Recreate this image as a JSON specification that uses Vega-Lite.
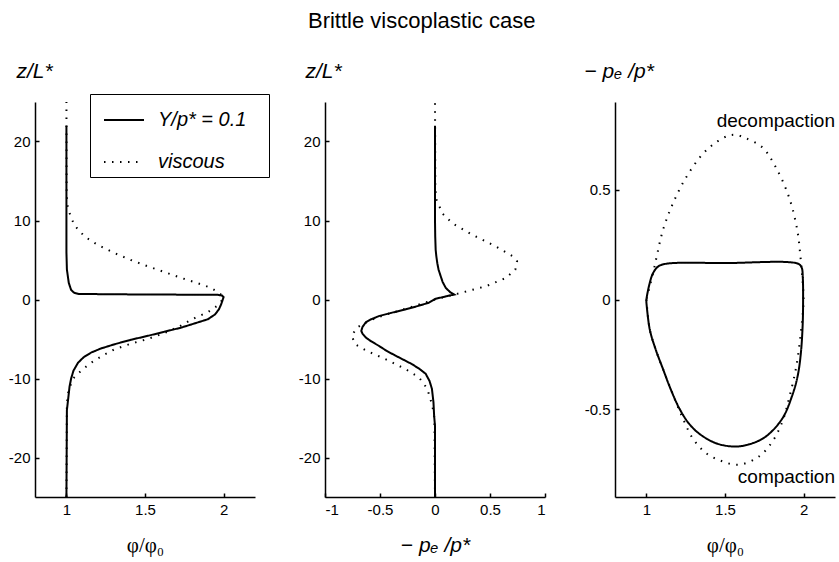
{
  "$schema": "https://vega.github.io/schema/vega-lite/v6.json",
  "padding": {"left": 8, "top": 10, "right": 2, "bottom": 5},
  "background": "white",
  "title": {"text": "Brittle viscoplastic case", "fontSize": 22, "fontWeight": "normal", "font": "Liberation Sans", "color": "black", "anchor": "middle", "offset": 27},
  "config": {
    "view": {"stroke": null},
    "font": "Liberation Sans",
    "axis": {
      "grid": false, "domainColor": "black", "domainWidth": 1.5, "tickColor": "black", "tickWidth": 1.5,
      "tickSize": -4, "labelPadding": 9, "labelColor": "black", "labelFontSize": 15, "labelFont": "Liberation Sans",
      "titleColor": "black", "titleFontWeight": "normal", "labelExpr": "'' + datum.value"
    },
    "axisY": {"titleAngle": 0, "titleAlign": "left", "titleBaseline": "alphabetic", "titleY": -25, "titleFontSize": 21, "titleFontStyle": "italic"},
    "axisX": {"titlePadding": 17}
  },
  "datasets": {
    "p1": [
      {"s": "Y/p* = 0.1", "z": -25, "phi": 1.0},
      {"s": "Y/p* = 0.1", "z": -14, "phi": 1.003},
      {"s": "Y/p* = 0.1", "z": -12.6, "phi": 1.011},
      {"s": "Y/p* = 0.1", "z": -11, "phi": 1.02},
      {"s": "Y/p* = 0.1", "z": -10, "phi": 1.03},
      {"s": "Y/p* = 0.1", "z": -9, "phi": 1.045},
      {"s": "Y/p* = 0.1", "z": -8, "phi": 1.074},
      {"s": "Y/p* = 0.1", "z": -7.3, "phi": 1.11},
      {"s": "Y/p* = 0.1", "z": -6.7, "phi": 1.159},
      {"s": "Y/p* = 0.1", "z": -6.2, "phi": 1.22},
      {"s": "Y/p* = 0.1", "z": -5.66, "phi": 1.307},
      {"s": "Y/p* = 0.1", "z": -5.1, "phi": 1.41},
      {"s": "Y/p* = 0.1", "z": -4.6, "phi": 1.518},
      {"s": "Y/p* = 0.1", "z": -4.1, "phi": 1.62},
      {"s": "Y/p* = 0.1", "z": -3.56, "phi": 1.73},
      {"s": "Y/p* = 0.1", "z": -3.0, "phi": 1.82},
      {"s": "Y/p* = 0.1", "z": -2.5, "phi": 1.9},
      {"s": "Y/p* = 0.1", "z": -1.9, "phi": 1.945},
      {"s": "Y/p* = 0.1", "z": -1.26, "phi": 1.97},
      {"s": "Y/p* = 0.1", "z": -0.6, "phi": 1.985},
      {"s": "Y/p* = 0.1", "z": 0, "phi": 1.995},
      {"s": "Y/p* = 0.1", "z": 0.3, "phi": 2.0},
      {"s": "Y/p* = 0.1", "z": 0.5, "phi": 1.99},
      {"s": "Y/p* = 0.1", "z": 0.6, "phi": 1.96},
      {"s": "Y/p* = 0.1", "z": 0.63, "phi": 1.5},
      {"s": "Y/p* = 0.1", "z": 0.7, "phi": 1.08},
      {"s": "Y/p* = 0.1", "z": 0.84, "phi": 1.05},
      {"s": "Y/p* = 0.1", "z": 1.2, "phi": 1.03},
      {"s": "Y/p* = 0.1", "z": 2.1, "phi": 1.015},
      {"s": "Y/p* = 0.1", "z": 3.8, "phi": 1.003},
      {"s": "Y/p* = 0.1", "z": 6, "phi": 1.0},
      {"s": "Y/p* = 0.1", "z": 22, "phi": 1.0},
      {"s": "viscous", "z": -25, "phi": 1.0},
      {"s": "viscous", "z": -13, "phi": 1.003},
      {"s": "viscous", "z": -11.3, "phi": 1.015},
      {"s": "viscous", "z": -9.85, "phi": 1.05},
      {"s": "viscous", "z": -8.9, "phi": 1.1},
      {"s": "viscous", "z": -7.96, "phi": 1.16},
      {"s": "viscous", "z": -7.1, "phi": 1.23},
      {"s": "viscous", "z": -6.3, "phi": 1.307},
      {"s": "viscous", "z": -5.6, "phi": 1.41},
      {"s": "viscous", "z": -5.0, "phi": 1.518},
      {"s": "viscous", "z": -4.2, "phi": 1.63},
      {"s": "viscous", "z": -3.4, "phi": 1.72},
      {"s": "viscous", "z": -2.5, "phi": 1.8},
      {"s": "viscous", "z": -1.6, "phi": 1.9},
      {"s": "viscous", "z": -0.8, "phi": 1.96},
      {"s": "viscous", "z": 0, "phi": 1.995},
      {"s": "viscous", "z": 0.5, "phi": 1.99},
      {"s": "viscous", "z": 0.84, "phi": 1.97},
      {"s": "viscous", "z": 1.47, "phi": 1.92},
      {"s": "viscous", "z": 2.1, "phi": 1.83},
      {"s": "viscous", "z": 2.73, "phi": 1.73},
      {"s": "viscous", "z": 3.5, "phi": 1.62},
      {"s": "viscous", "z": 4.2, "phi": 1.518},
      {"s": "viscous", "z": 5.0, "phi": 1.41},
      {"s": "viscous", "z": 5.87, "phi": 1.307},
      {"s": "viscous", "z": 6.9, "phi": 1.2},
      {"s": "viscous", "z": 7.97, "phi": 1.116},
      {"s": "viscous", "z": 9.4, "phi": 1.05},
      {"s": "viscous", "z": 10.9, "phi": 1.021},
      {"s": "viscous", "z": 12, "phi": 1.005},
      {"s": "viscous", "z": 14, "phi": 1.001},
      {"s": "viscous", "z": 25, "phi": 1.0}
    ],
    "p2": [
      {"s": "Y/p* = 0.1", "z": -25, "p": 0},
      {"s": "Y/p* = 0.1", "z": -16, "p": 0},
      {"s": "Y/p* = 0.1", "z": -14.7, "p": -0.008},
      {"s": "Y/p* = 0.1", "z": -13, "p": -0.014},
      {"s": "Y/p* = 0.1", "z": -11.3, "p": -0.028},
      {"s": "Y/p* = 0.1", "z": -10.3, "p": -0.05},
      {"s": "Y/p* = 0.1", "z": -9.4, "p": -0.085},
      {"s": "Y/p* = 0.1", "z": -8.8, "p": -0.14},
      {"s": "Y/p* = 0.1", "z": -8.2, "p": -0.207},
      {"s": "Y/p* = 0.1", "z": -7.6, "p": -0.29},
      {"s": "Y/p* = 0.1", "z": -7.1, "p": -0.36},
      {"s": "Y/p* = 0.1", "z": -6.5, "p": -0.44},
      {"s": "Y/p* = 0.1", "z": -5.87, "p": -0.51},
      {"s": "Y/p* = 0.1", "z": -5.3, "p": -0.58},
      {"s": "Y/p* = 0.1", "z": -4.8, "p": -0.63},
      {"s": "Y/p* = 0.1", "z": -4.3, "p": -0.66},
      {"s": "Y/p* = 0.1", "z": -3.98, "p": -0.67},
      {"s": "Y/p* = 0.1", "z": -3.5, "p": -0.66},
      {"s": "Y/p* = 0.1", "z": -2.9, "p": -0.63},
      {"s": "Y/p* = 0.1", "z": -2.5, "p": -0.58},
      {"s": "Y/p* = 0.1", "z": -2.1, "p": -0.51},
      {"s": "Y/p* = 0.1", "z": -1.7, "p": -0.4},
      {"s": "Y/p* = 0.1", "z": -1.26, "p": -0.27},
      {"s": "Y/p* = 0.1", "z": -0.8, "p": -0.15},
      {"s": "Y/p* = 0.1", "z": -0.4, "p": -0.055},
      {"s": "Y/p* = 0.1", "z": 0.09, "p": 0.006},
      {"s": "Y/p* = 0.1", "z": 0.4, "p": 0.1},
      {"s": "Y/p* = 0.1", "z": 0.63, "p": 0.174},
      {"s": "Y/p* = 0.1", "z": 0.9, "p": 0.14},
      {"s": "Y/p* = 0.1", "z": 1.47, "p": 0.098},
      {"s": "Y/p* = 0.1", "z": 2.2, "p": 0.07},
      {"s": "Y/p* = 0.1", "z": 2.94, "p": 0.052},
      {"s": "Y/p* = 0.1", "z": 3.8, "p": 0.032},
      {"s": "Y/p* = 0.1", "z": 4.6, "p": 0.021},
      {"s": "Y/p* = 0.1", "z": 5.5, "p": 0.012},
      {"s": "Y/p* = 0.1", "z": 6.3, "p": 0.006},
      {"s": "Y/p* = 0.1", "z": 8, "p": 0.002},
      {"s": "Y/p* = 0.1", "z": 10, "p": 0},
      {"s": "Y/p* = 0.1", "z": 22, "p": 0},
      {"s": "viscous", "z": -25, "p": 0},
      {"s": "viscous", "z": -15, "p": -0.005},
      {"s": "viscous", "z": -13.4, "p": -0.025},
      {"s": "viscous", "z": -11.3, "p": -0.07},
      {"s": "viscous", "z": -9.85, "p": -0.146},
      {"s": "viscous", "z": -8.8, "p": -0.27},
      {"s": "viscous", "z": -7.55, "p": -0.45},
      {"s": "viscous", "z": -6.5, "p": -0.62},
      {"s": "viscous", "z": -5.66, "p": -0.726},
      {"s": "viscous", "z": -4.6, "p": -0.757},
      {"s": "viscous", "z": -3.56, "p": -0.711},
      {"s": "viscous", "z": -2.7, "p": -0.6},
      {"s": "viscous", "z": -2.0, "p": -0.47},
      {"s": "viscous", "z": -1.4, "p": -0.32},
      {"s": "viscous", "z": -0.7, "p": -0.16},
      {"s": "viscous", "z": 0, "p": 0.0},
      {"s": "viscous", "z": 0.84, "p": 0.235},
      {"s": "viscous", "z": 1.68, "p": 0.463},
      {"s": "viscous", "z": 2.73, "p": 0.645},
      {"s": "viscous", "z": 3.77, "p": 0.73},
      {"s": "viscous", "z": 4.83, "p": 0.746},
      {"s": "viscous", "z": 5.46, "p": 0.707},
      {"s": "viscous", "z": 6.7, "p": 0.555},
      {"s": "viscous", "z": 8.2, "p": 0.34},
      {"s": "viscous", "z": 9.65, "p": 0.158},
      {"s": "viscous", "z": 10.9, "p": 0.067},
      {"s": "viscous", "z": 12.6, "p": 0.015},
      {"s": "viscous", "z": 14, "p": 0.003},
      {"s": "viscous", "z": 25, "p": 0}
    ],
    "p3": [
      {"s": "Y/p* = 0.1", "o": 1, "phi": 1.0, "p": -0.015},
      {"s": "Y/p* = 0.1", "o": 2, "phi": 1.021, "p": -0.136},
      {"s": "Y/p* = 0.1", "o": 3, "phi": 1.06, "p": -0.23},
      {"s": "Y/p* = 0.1", "o": 4, "phi": 1.105, "p": -0.316},
      {"s": "Y/p* = 0.1", "o": 5, "phi": 1.155, "p": -0.41},
      {"s": "Y/p* = 0.1", "o": 6, "phi": 1.21, "p": -0.497},
      {"s": "Y/p* = 0.1", "o": 7, "phi": 1.27, "p": -0.565},
      {"s": "Y/p* = 0.1", "o": 8, "phi": 1.337, "p": -0.612},
      {"s": "Y/p* = 0.1", "o": 9, "phi": 1.443, "p": -0.655},
      {"s": "Y/p* = 0.1", "o": 10, "phi": 1.559, "p": -0.67},
      {"s": "Y/p* = 0.1", "o": 11, "phi": 1.654, "p": -0.66},
      {"s": "Y/p* = 0.1", "o": 12, "phi": 1.759, "p": -0.625},
      {"s": "Y/p* = 0.1", "o": 13, "phi": 1.865, "p": -0.542},
      {"s": "Y/p* = 0.1", "o": 14, "phi": 1.928, "p": -0.437},
      {"s": "Y/p* = 0.1", "o": 15, "phi": 1.962, "p": -0.35},
      {"s": "Y/p* = 0.1", "o": 16, "phi": 1.982, "p": -0.25},
      {"s": "Y/p* = 0.1", "o": 17, "phi": 1.994, "p": -0.12},
      {"s": "Y/p* = 0.1", "o": 18, "phi": 1.997, "p": 0.0},
      {"s": "Y/p* = 0.1", "o": 19, "phi": 1.995, "p": 0.1},
      {"s": "Y/p* = 0.1", "o": 20, "phi": 1.988, "p": 0.145},
      {"s": "Y/p* = 0.1", "o": 21, "phi": 1.965, "p": 0.163},
      {"s": "Y/p* = 0.1", "o": 22, "phi": 1.5, "p": 0.166},
      {"s": "Y/p* = 0.1", "o": 23, "phi": 1.127, "p": 0.163},
      {"s": "Y/p* = 0.1", "o": 24, "phi": 1.074, "p": 0.15},
      {"s": "Y/p* = 0.1", "o": 25, "phi": 1.042, "p": 0.12},
      {"s": "Y/p* = 0.1", "o": 26, "phi": 1.021, "p": 0.075},
      {"s": "Y/p* = 0.1", "o": 27, "phi": 1.0, "p": 0.0},
      {"s": "Y/p* = 0.1", "o": 28, "phi": 1.0, "p": -0.015},
      {"s": "viscous", "o": 1, "phi": 1.0, "p": 0.0},
      {"s": "viscous", "o": 2, "phi": 1.021, "p": -0.136},
      {"s": "viscous", "o": 3, "phi": 1.06, "p": -0.23},
      {"s": "viscous", "o": 4, "phi": 1.105, "p": -0.316},
      {"s": "viscous", "o": 5, "phi": 1.179, "p": -0.452},
      {"s": "viscous", "o": 6, "phi": 1.232, "p": -0.542},
      {"s": "viscous", "o": 7, "phi": 1.295, "p": -0.633},
      {"s": "viscous", "o": 8, "phi": 1.38, "p": -0.7},
      {"s": "viscous", "o": 9, "phi": 1.485, "p": -0.738},
      {"s": "viscous", "o": 10, "phi": 1.59, "p": -0.753},
      {"s": "viscous", "o": 11, "phi": 1.717, "p": -0.715},
      {"s": "viscous", "o": 12, "phi": 1.801, "p": -0.648},
      {"s": "viscous", "o": 13, "phi": 1.865, "p": -0.557},
      {"s": "viscous", "o": 14, "phi": 1.907, "p": -0.452},
      {"s": "viscous", "o": 15, "phi": 1.955, "p": -0.3},
      {"s": "viscous", "o": 16, "phi": 1.99, "p": -0.1},
      {"s": "viscous", "o": 17, "phi": 2.0, "p": 0.0},
      {"s": "viscous", "o": 18, "phi": 1.992, "p": 0.1},
      {"s": "viscous", "o": 19, "phi": 1.98, "p": 0.196},
      {"s": "viscous", "o": 20, "phi": 1.96, "p": 0.316},
      {"s": "viscous", "o": 21, "phi": 1.907, "p": 0.467},
      {"s": "viscous", "o": 22, "phi": 1.823, "p": 0.603},
      {"s": "viscous", "o": 23, "phi": 1.738, "p": 0.693},
      {"s": "viscous", "o": 24, "phi": 1.633, "p": 0.735},
      {"s": "viscous", "o": 25, "phi": 1.57, "p": 0.75},
      {"s": "viscous", "o": 26, "phi": 1.52, "p": 0.746},
      {"s": "viscous", "o": 27, "phi": 1.443, "p": 0.716},
      {"s": "viscous", "o": 28, "phi": 1.358, "p": 0.663},
      {"s": "viscous", "o": 29, "phi": 1.253, "p": 0.557},
      {"s": "viscous", "o": 30, "phi": 1.168, "p": 0.437},
      {"s": "viscous", "o": 31, "phi": 1.105, "p": 0.316},
      {"s": "viscous", "o": 32, "phi": 1.063, "p": 0.188},
      {"s": "viscous", "o": 33, "phi": 1.042, "p": 0.12},
      {"s": "viscous", "o": 34, "phi": 1.0, "p": 0.0}
    ],
    "labels3": [
      {"label": "decompaction", "phi": 2.2, "p": 0.813},
      {"label": "compaction", "phi": 2.2, "p": -0.81}
    ]
  },
  "spacing": 70,
  "bounds": "flush",
  "resolve": {"legend": {"strokeDash": "independent"}},
  "hconcat": [
    {
      "width": 220, "height": 395,
      "data": {"name": "p1"},
      "mark": {"type": "line", "color": "black", "strokeWidth": 2, "clip": true},
      "encoding": {
        "x": {"field": "phi", "type": "quantitative", "scale": {"domain": [0.8, 2.2], "nice": false, "zero": false},
              "axis": {"values": [1, 1.5, 2], "title": "φ/φ₀", "titleFont": "Liberation Serif", "titleFontSize": 21}},
        "y": {"field": "z", "type": "quantitative", "scale": {"domain": [-25, 25], "nice": false},
              "axis": {"values": [-20, -10, 0, 10, 20], "title": "z/L*", "titleX": -19}},
        "order": {"field": "z", "type": "quantitative"},
        "strokeDash": {"field": "s", "type": "nominal",
          "scale": {"domain": ["Y/p* = 0.1", "viscous"], "range": [[1, 0], [1.5, 6.5]]},
          "legend": {"orient": "none", "legendX": 55, "legendY": -8, "title": null, "symbolType": "stroke",
                     "symbolSize": 1600, "symbolStrokeWidth": 2, "symbolStrokeColor": "black", "symbolOffset": 8,
                     "labelOffset": 13, "labelFontSize": 20, "labelFontStyle": "italic", "labelColor": "black",
                     "labelFont": "Liberation Sans", "strokeColor": "black", "padding": 5, "rowPadding": 11,
                     "labelExpr": "datum.label == 'viscous' ? datum.label : datum.label + '\u00a0\u00a0\u00a0\u200b'"}}
      }
    },
    {
      "width": 220, "height": 395,
      "data": {"name": "p2"},
      "mark": {"type": "line", "color": "black", "strokeWidth": 2, "clip": true},
      "encoding": {
        "x": {"field": "p", "type": "quantitative", "scale": {"domain": [-1, 1], "nice": false},
              "axis": {"values": [-1, -0.5, 0, 0.5, 1], "title": "− pₑ /p*", "titleFontStyle": "italic", "titleFontSize": 21}},
        "y": {"field": "z", "type": "quantitative", "scale": {"domain": [-25, 25], "nice": false},
              "axis": {"values": [-20, -10, 0, 10, 20], "title": "z/L*", "titleX": -20}},
        "order": {"field": "z", "type": "quantitative"},
        "strokeDash": {"field": "s", "type": "nominal",
          "scale": {"domain": ["Y/p* = 0.1", "viscous"], "range": [[1, 0], [1.5, 6.5]]}, "legend": null}
      }
    },
    {
      "width": 220, "height": 395,
      "layer": [
        {
          "data": {"name": "p3"},
          "mark": {"type": "line", "color": "black", "strokeWidth": 2, "clip": true, "interpolate": "catmull-rom"},
          "encoding": {
            "x": {"field": "phi", "type": "quantitative", "scale": {"domain": [0.8, 2.2], "nice": false, "zero": false},
                  "axis": {"values": [1, 1.5, 2], "title": "φ/φ₀", "titleFont": "Liberation Serif", "titleFontSize": 21}},
            "y": {"field": "p", "type": "quantitative", "scale": {"domain": [-0.9, 0.9], "nice": false},
                  "axis": {"values": [-0.5, 0, 0.5], "title": "− pₑ /p*", "titleX": -31}},
            "order": {"field": "o", "type": "quantitative"},
            "strokeDash": {"field": "s", "type": "nominal",
              "scale": {"domain": ["Y/p* = 0.1", "viscous"], "range": [[1, 0], [1.5, 6.5]]}, "legend": null}
          }
        },
        {
          "data": {"name": "labels3"},
          "mark": {"type": "text", "align": "right", "baseline": "middle", "fontSize": 19, "color": "black", "font": "Liberation Sans"},
          "encoding": {
            "x": {"field": "phi", "type": "quantitative"},
            "y": {"field": "p", "type": "quantitative"},
            "text": {"field": "label"}
          }
        }
      ]
    }
  ]
}
